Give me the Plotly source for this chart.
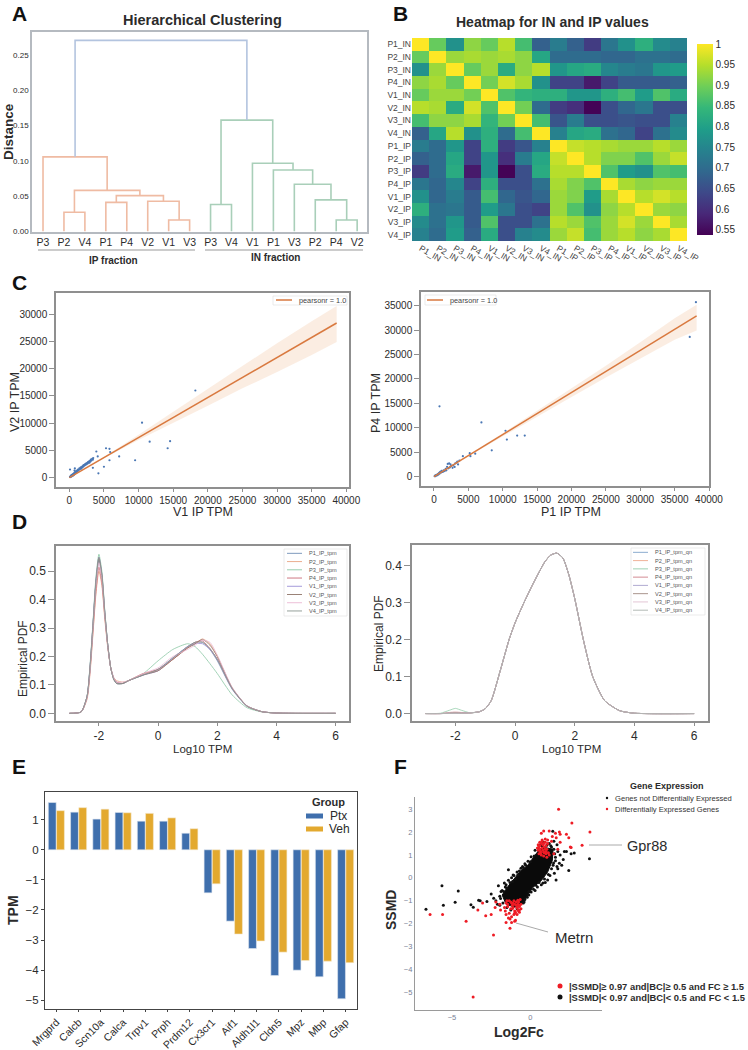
import plotly.graph_objects as go

W, H = 748, 1050
FONT = "Liberation Sans"
DARK = "#2b2b2b"
FRAME = "#8f8f8f"

# A: dendrogram
leaf_labels = ["P3", "P2", "V4", "P1", "P4", "V2", "V1", "V3",
               "P3", "V4", "V1", "P1", "V3", "P2", "P4", "V2"]
ip_merges = [(1, 2, 0.027), (6, 7, 0.016), (5, 17, 0.0426), (3, 4, 0.041),
             (19, 18, 0.0506), (16, 20, 0.058), (0, 21, 0.1056)]
in_merges = [(8, 9, 0.038), (14, 15, 0.016), (13, 24, 0.0445), (12, 25, 0.0668),
             (11, 26, 0.087), (10, 27, 0.0966), (23, 28, 0.1577)]
top_merge = [(22, 29, 0.2708)]

# B: correlation heatmap
hm_labels = ["P1_IN", "P2_IN", "P3_IN", "P4_IN", "V1_IN", "V2_IN", "V3_IN", "V4_IN",
             "P1_IP", "P2_IP", "P3_IP", "P4_IP", "V1_IP", "V2_IP", "V3_IP", "V4_IP"]
hm_values = [
    [1.00, .89, .77, .92, .89, .95, .86, .68, .73, .68, .62, .72, .77, .83, .76, .74],
    [.89, 1.00, .93, .94, .93, .94, .92, .81, .70, .70, .70, .69, .69, .71, .71, .70],
    [.77, .93, 1.00, .89, .93, .82, .92, .95, .78, .81, .82, .75, .73, .72, .78, .79],
    [.92, .94, .89, 1.00, .90, .97, .94, .77, .63, .63, .57, .63, .67, .67, .67, .68],
    [.89, .93, .93, .90, 1.00, .87, .84, .83, .83, .78, .78, .83, .86, .79, .87, .82],
    [.95, .94, .82, .97, .87, 1.00, .90, .70, .62, .60, .54, .65, .69, .72, .65, .65],
    [.86, .92, .92, .94, .84, .90, 1.00, .86, .66, .73, .65, .65, .66, .65, .65, .74],
    [.68, .81, .95, .77, .83, .70, .86, 1.00, .74, .81, .82, .71, .69, .63, .71, .76],
    [.73, .70, .78, .63, .83, .62, .66, .74, 1.00, .96, .95, .94, .93, .93, .95, .93],
    [.68, .70, .81, .63, .78, .60, .73, .81, .96, 1.00, .95, .91, .91, .87, .93, .96],
    [.62, .70, .82, .57, .78, .54, .65, .82, .95, .95, 1.00, .87, .79, .77, .87, .86],
    [.72, .69, .75, .63, .83, .65, .65, .71, .94, .91, .87, 1.00, .94, .92, .93, .93],
    [.77, .69, .73, .67, .86, .69, .66, .69, .93, .91, .79, .94, 1.00, .95, .97, .95],
    [.83, .71, .72, .67, .79, .72, .65, .63, .93, .87, .77, .92, .95, 1.00, .93, .92],
    [.76, .71, .78, .67, .87, .65, .65, .71, .95, .93, .87, .93, .97, .93, 1.00, .94],
    [.74, .70, .79, .68, .82, .65, .74, .76, .93, .96, .86, .93, .95, .92, .94, 1.00],
]
cb_ticks = [0.55, 0.6, 0.65, 0.7, 0.75, 0.8, 0.85, 0.9, 0.95, 1]

# C: scatter plots with regression fits
c1_x = [18200, 10500, 11600, 14550, 14200, 9500, 7200, 5800, 5800, 5900, 5300, 4100, 3900, 5000, 4200, 3400,
        100, 800, 750, 100, 150, 200, 250, 300, 350, 400, 450, 500, 550, 600, 650, 700, 800, 850, 900, 1000,
        1050, 1100, 1200, 1250, 1300, 1400, 1450, 1500, 1600, 1650, 1700, 1800, 1850, 1900, 2000, 2050, 2100,
        2200, 2250, 2300, 2400, 2450, 2500, 2600, 2650, 2700, 2800, 2850, 2900, 3000, 3050, 3100, 3200, 3300, 3400, 3450]
c1_y = [16000, 10100, 6600, 6700, 5400, 3200, 3900, 3200, 5300, 4700, 5400, 3900, 4800, 2000, 800, 1800,
        1500, 1700, 1300, 150, 100, 300, 200, 450, 250, 500, 350, 600, 400, 700, 500, 850, 700, 1000, 1100, 1000,
        1200, 1300, 1150, 1500, 1400, 1450, 1700, 1550, 1700, 1900, 1650, 1850, 2050, 1900, 2200, 2050, 2300,
        2250, 2450, 2350, 2500, 2650, 2450, 2700, 2600, 2850, 2800, 3000, 2750, 3100, 2950, 3300, 3150, 3450, 3300, 3600]
c1_fit_x = [0, 5000, 10000, 15000, 20000, 25000, 30000, 35000, 38600]
c1_fit_y = [0, 3680, 7360, 11040, 14720, 18400, 22080, 25760, 28400]
c1_up = [50, 3800, 7900, 12100, 16400, 20600, 24700, 28700, 31500]
c1_lo = [-50, 3550, 6900, 10100, 13200, 16400, 19400, 22500, 24900]

c2_x = [37200, 38100, 800, 6900, 10400, 10600, 12100, 13200, 8400, 6000, 5200, 5300, 4200, 100, 150, 200, 300,
        350, 450, 500, 600, 650, 750, 800, 900, 1000, 1100, 1200, 1300, 1400, 1500, 1600, 1700, 1800, 1900,
        2000, 2100, 2200, 2300, 2400, 2500, 2700, 2800, 3000, 3100, 3300, 3400, 3500, 3700]
c2_y = [28600, 35700, 14400, 11100, 9400, 7600, 8400, 8400, 5400, 4700, 4800, 4200, 4200, 100, 200, 100, 300,
        250, 400, 300, 600, 450, 800, 600, 1000, 800, 1200, 950, 1000, 1300, 1150, 1250, 1600, 1300, 2000,
        2600, 1700, 2700, 1900, 2500, 2200, 1800, 2300, 2000, 2700, 2900, 3100, 2500, 3300]
c2_fit_x = [0, 5000, 10000, 15000, 20000, 25000, 30000, 35000, 38200]
c2_fit_y = [0, 4300, 8610, 12900, 17200, 21500, 25800, 30100, 32900]
c2_up = [60, 4400, 8900, 13500, 18100, 22700, 27500, 32400, 35200]
c2_lo = [-60, 4200, 8300, 12300, 16300, 20300, 24200, 28000, 29900]

# D: density curves
d_x = [-3, -2.6, -2.4, -2.3, -2.2, -2.1, -2, -1.9, -1.8, -1.7, -1.6, -1.5, -1.4, -1.2, -1, -0.5,
       0, 0.5, 1, 1.25, 1.5, 1.75, 2, 2.5, 3, 3.5, 4, 6]
d_names = ["P1_IP_tpm", "P2_IP_tpm", "P3_IP_tpm", "P4_IP_tpm", "V1_IP_tpm", "V2_IP_tpm", "V3_IP_tpm", "V4_IP_tpm"]
d_colors = ["#6f8fb5", "#e8a583", "#8cc8a4", "#c96a76", "#9b8fd6", "#8f7468", "#eab8d3", "#8a968e"]
d_p1 = [0, .005, .06, .16, .31, .46, .54, .48, .35, .24, .16, .125, .11, .105, .115, .135,
        .155, .195, .235, .25, .25, .225, .185, .085, .025, .006, .001, 0]
d_p2 = [0, .005, .05, .14, .28, .42, .50, .45, .33, .23, .16, .125, .115, .11, .115, .14,
        .15, .19, .23, .245, .262, .245, .20, .09, .026, .006, .001, 0]
d_p3 = [0, .005, .06, .17, .32, .48, .56, .50, .36, .24, .16, .12, .105, .105, .115, .14,
        .185, .225, .245, .235, .208, .175, .14, .065, .02, .005, .001, 0]
d_p4 = [0, .005, .055, .15, .29, .43, .515, .46, .34, .235, .16, .125, .11, .105, .115, .14,
        .155, .19, .232, .25, .255, .228, .19, .088, .026, .006, .001, 0]
d_v1 = [0, .005, .06, .165, .315, .47, .55, .49, .355, .24, .16, .12, .105, .105, .115, .135,
        .15, .195, .235, .245, .245, .225, .19, .088, .026, .006, .001, 0]
d_v2 = [0, .005, .06, .16, .31, .46, .545, .485, .35, .24, .16, .12, .105, .105, .115, .135,
        .15, .19, .23, .245, .26, .24, .20, .09, .026, .006, .001, 0]
d_v3 = [0, .005, .055, .15, .30, .45, .53, .475, .345, .235, .16, .125, .11, .11, .115, .14,
        .16, .20, .225, .24, .258, .25, .205, .092, .027, .006, .001, 0]
d_v4 = [0, .005, .06, .16, .31, .465, .55, .49, .355, .24, .16, .12, .105, .105, .115, .135,
        .155, .195, .235, .25, .25, .228, .19, .088, .026, .006, .001, 0]
d_series = [d_p1, d_p2, d_p3, d_p4, d_v1, d_v2, d_v3, d_v4]

qn_names = ["P1_IP_tpm_qn", "P2_IP_tpm_qn", "P3_IP_tpm_qn", "P4_IP_tpm_qn",
            "V1_IP_tpm_qn", "V2_IP_tpm_qn", "V3_IP_tpm_qn", "V4_IP_tpm_qn"]
qn_colors = ["#7fa3c9", "#eea98c", "#93cda9", "#cf7f88", "#a7a1cc", "#a08a80", "#e0c0d0", "#a9b2ad"]
qn_left_x = [-3, -2.5, -2.2, -2, -1.8, -1.5]
qn_left_p1 = [0, 0, .001, .001, .001, .002]
qn_left_p2 = [0, 0, .001, .002, .001, .002]
qn_left_p3 = [0, .001, .009, .014, .009, .002]
qn_left_p4 = [0, 0, .003, .004, .003, .002]
qn_left_v1 = [0, 0, .001, .001, .001, .002]
qn_left_v2 = [0, 0, .001, .002, .001, .002]
qn_left_v3 = [0, 0, .001, .001, .001, .002]
qn_left_v4 = [0, 0, .001, .001, .001, .002]
qn_lefts = [qn_left_p1, qn_left_p2, qn_left_p3, qn_left_p4, qn_left_v1, qn_left_v2, qn_left_v3, qn_left_v4]
qn_right_x = [-1.2, -1, -0.8, -0.5, -0.2, 0, 0.3, 0.6, 1, 1.2, 1.4, 1.6, 1.8, 2, 2.3, 2.6, 3, 3.5, 4, 6]
qn_right_y = [.005, .013, .035, .115, .20, .245, .30, .35, .41, .428, .433, .42, .375, .31, .195, .10, .035, .008, .001, 0]

# E: marker gene bars
genes = ["Mrgprd", "Calcb", "Scn10a", "Calca", "Trpv1", "Prph", "Prdm12",
         "Cx3cr1", "Aif1", "Aldh1l1", "Cldn5", "Mpz", "Mbp", "Gfap"]
ptx = [1.57, 1.25, 1.02, 1.24, 0.95, 0.95, 0.55, -1.43, -2.37, -3.28, -4.18, -4.0, -4.22, -4.95]
veh = [1.30, 1.40, 1.35, 1.23, 1.21, 1.06, 0.70, -1.13, -2.80, -3.03, -3.40, -3.68, -3.70, -3.75]

# F: volcano-like scatter, the solid core of the cloud is outlined, sparser points are listed
cloud_x = [-1.55, -1.8, -1.4, -0.95, -0.6, -0.2, 0.1, 0.4, 0.75, 1.45, 1.4, 1.1, 0.7, 0.15, -0.25, -0.5, -1.0]
cloud_y = [-1.15, -0.75, -0.35, 0.02, 0.32, 0.52, 0.8, 1.08, 1.35, 1.25, 0.75, 0.25, -0.12, -0.42, -0.85, -1.12, -1.28]
ns_x = [-6.66, -5.64, -5.55, -4.8, -4.6, -3.79, -3.64, -3.3, -3.2, -2.77, -2.5, -2.34, -2.04, -1.87, -1.66, -1.4,
        -1.13, -0.8, -0.6, 1.64, 2.45, 3.77, 2.8, 2.6, 2.17, 1.43, 1.53, 1.85, 1.1, -2.2, -1.95, -1.8, -1.6, -1.75,
        -1.55, -1.4, -1.2, -1.05, -0.95, -0.7, -0.45, -0.3, 0.0, 0.25, 0.55, 0.75, 1.2, 1.35, 1.5, 1.7, 1.6, 1.9,
        2.1, 2.3, 1.45, 1.25, 0.95, 1.75, 2.0, 0.7, 0.45, 0.3, -0.1, -0.4, -0.85, -1.25, -1.5, -1.95, -2.1,
        -1.9, -1.7, -1.5, -1.3, -1.1, -0.85, -0.5, -0.35, -0.15, 0.05, 0.3, 0.5, 0.65, 0.85, 1.05, 1.3, 1.5, 1.55,
        1.48, 1.35, 1.15, 0.9, 0.8, 0.55, 0.35, 0.2, 0.05, -0.1, -0.2, -0.35, -0.45, 1.6, 1.7, 1.75]
ns_y = [-1.37, -0.34, -1.2, -1.06, -0.57, -1.18, -1.28, -0.98, -1.0, -1.03, -0.7, -0.89, -0.35, -0.6, -0.23, 0.35,
        -0.16, 0.13, 0.42, -0.09, 0.32, 0.83, 1.08, 1.05, 1.15, 2.03, 0.2, 0.64, -0.09, -1.0, -0.8, -0.55, -0.4, -1.1,
        -0.3, -0.1, 0.0, 0.1, -0.05, 0.3, 0.45, 0.55, 0.7, 0.95, 1.15, 1.4, 1.5, 1.35, 1.6, 1.45, 0.9, 1.0,
        0.8, 1.15, 0.55, 0.1, -0.2, 0.4, 0.55, -0.3, -0.4, -0.55, -0.75, -1.05, -1.35, -1.4, -1.3, -1.2, -1.15,
        -0.9, -0.6, -0.45, -0.2, 0.12, 0.25, 0.5, 0.62, 0.72, 0.92, 1.2, 1.3, 1.45, 1.55, 1.42, 1.4, 1.25, 1.05,
        0.65, 0.4, 0.15, -0.05, -0.22, -0.2, -0.32, -0.5, -0.62, -0.6, -0.85, -0.95, -1.1, 0.75, 0.5, 1.15]
de_x = [1.8, 2.65, 3.8, 3.3, 2.6, 2.45, 2.3, 1.9, 1.85, 1.6, 1.4, 1.2, 0.85, 0.7, 0.6, 0.55, 0.95, 1.1, 1.0, 0.8, 0.75, 0.6, 0.5, 0.65,
        0.9, 1.05, 1.2, 1.5, 1.75, 1.9, 0.55, 0.7, 0.85, 1.0, 0.45, 0.5, 0.75, 0.95, 1.1, 1.35, 1.65, 2.55, 1.05, 0.85,
        0.6, 0.7, 0.8, 0.9, 1.0, 1.15, 0.65, 0.85, 0.95, 0.75,
        -6.4, -5.6, -4.1, -3.35, -3.05, -2.85, -2.5, -2.35, -2.2, -2.25, -1.95, -1.9, -1.65, -1.6, -1.55, -1.5, -1.45, -1.4, -1.3,
        -1.25, -1.15, -1.05, -1.0, -0.9, -0.75, -0.7, -0.65, -0.6, -1.55, -1.35, -1.2, -1.1, -0.95, -0.8, -0.7, -1.45, -1.25, -1.05, -0.85,
        -1.55, -1.35, -1.15, -1.0, -0.85, -0.75, -3.65, -1.0, -0.8, -1.3, -1.2,
        -0.9, -0.8, -0.7, -0.6, -1.0, -1.1, -1.2, -0.85, -0.7, -0.95]
de_y = [3.0, 2.4, 2.0, 1.42, 1.32, 1.75, 1.9, 1.9, 2.0, 1.95, 1.8, 2.05, 2.05, 1.95, 1.55, 1.35, 1.55, 1.65, 1.4, 1.45, 1.3, 1.25, 1.2, 1.15,
        1.1, 1.25, 1.0, 1.05, 1.25, 1.55, 1.05, 1.0, 0.95, 1.15, 1.3, 1.45, 1.6, 1.7, 1.5, 1.6, 1.75, 1.35, 0.9, 1.5,
        1.4, 1.5, 1.2, 1.35, 1.05, 1.1, 1.08, 1.12, 1.25, 1.65,
        -1.6, -1.6, -1.9, -1.4, -1.1, -1.65, -1.6, -2.5, -1.05, -1.3, -1.15, -1.4, -1.3, -1.45, -1.95, -1.0, -1.15, -1.75, -2.2,
        -1.05, -1.2, -1.0, -1.45, -1.2, -1.05, -1.5, -0.95, -1.35, -1.6, -1.55, -1.7, -1.1, -1.85, -1.4, -1.2, -1.25, -1.35, -1.6, -1.3,
        -1.1, -1.0, -1.35, -1.9, -1.6, -1.45, -5.2, -1.55, -0.98, -1.8, -1.95,
        -1.05, -1.15, -1.25, -1.15, -1.15, -1.3, -1.1, -1.3, -1.4, -1.5]


def px_x(x):
    return x / W


def px_y(y):
    return 1 - y / H


def dom(x0, x1, y0, y1):
    return dict(domain=[px_x(x0), px_x(x1)]), dict(domain=[px_y(y1), px_y(y0)])


def text(annots, x, y, s, size=10, bold=False, color=DARK, anchor="center", angle=0):
    annots.append(dict(x=px_x(x), y=px_y(y), xref="paper", yref="paper", text="<b>%s</b>" % s if bold else s,
                       showarrow=False, xanchor=anchor, yanchor="middle", textangle=angle,
                       font=dict(family=FONT, size=size, color=color)))


def seg(shapes, x0, y0, x1, y1, color="#999999", width=1):
    shapes.append(dict(type="line", xref="paper", yref="paper", x0=px_x(x0), y0=px_y(y0), x1=px_x(x1), y1=px_y(y1),
                       line=dict(color=color, width=width)))


def box(shapes, x0, y0, x1, y1, color="#e3e3e3"):
    shapes.append(dict(type="rect", xref="paper", yref="paper", x0=px_x(x0), y0=px_y(y0), x1=px_x(x1), y1=px_y(y1),
                       line=dict(color=color, width=0.7), fillcolor="white"))


def dot(shapes, x, y, r, color):
    shapes.append(dict(type="circle", xref="paper", yref="paper", x0=px_x(x - r), y0=px_y(y - r),
                       x1=px_x(x + r), y1=px_y(y + r), line=dict(width=0), fillcolor=color))


fig = go.Figure()
annots = []
shapes = []
axis_font = dict(family=FONT, size=10, color=DARK)


def frame_axes(rng, color=FRAME, width=1.5, **kw):
    out = dict(range=rng, showgrid=False, zeroline=False, showline=True, mirror=True, linecolor=color,
               linewidth=width, ticks="outside", ticklen=3, tickcolor=color, tickfont=axis_font)
    out.update(kw)
    return out


# A
pos = {i: float(i) for i in range(len(leaf_labels))}
height = {i: 0.0 for i in range(len(leaf_labels))}
node = len(leaf_labels)
for merges, color in [(ip_merges, "#efbba3"), (in_merges, "#a9cfb9"), (top_merge, "#b3c4df")]:
    for a, b, h in merges:
        fig.add_trace(go.Scatter(x=[pos[a], pos[a], pos[b], pos[b]], y=[height[a], h, h, height[b]],
                                 xaxis="x", yaxis="y", mode="lines", line=dict(color=color, width=1.6),
                                 showlegend=False))
        pos[node] = (pos[a] + pos[b]) / 2
        height[node] = h
        node += 1

# B
fig.add_trace(go.Heatmap(z=hm_values, x=hm_labels, y=hm_labels, xaxis="x2", yaxis="y2", colorscale="Viridis",
                         zmin=0.537, zmax=1.0, xgap=0, ygap=0,
                         colorbar=dict(x=px_x(697), xanchor="left", y=px_y(235), yanchor="bottom",
                                       xref="paper", yref="paper", len=191 / H, lenmode="fraction", xpad=0, ypad=0,
                                       thickness=16, thicknessmode="pixels", outlinewidth=0, ticks="",
                                       tickvals=cb_ticks, ticktext=[str(t) for t in cb_ticks], ticklabelposition="outside",
                                       tickfont=dict(family=FONT, size=10, color=DARK))))

# C
for xs, ys, fx, fy, up, lo, xa, ya in [(c1_x, c1_y, c1_fit_x, c1_fit_y, c1_up, c1_lo, "x3", "y3"),
                                       (c2_x, c2_y, c2_fit_x, c2_fit_y, c2_up, c2_lo, "x4", "y4")]:
    fig.add_trace(go.Scatter(x=fx + fx[::-1], y=up + lo[::-1], xaxis=xa, yaxis=ya, mode="lines", fill="toself",
                             fillcolor="rgba(240,190,150,0.28)", line=dict(width=0), showlegend=False))
    fig.add_trace(go.Scatter(x=xs, y=ys, xaxis=xa, yaxis=ya, mode="markers",
                             marker=dict(size=2.2, color="#4a77b4"), showlegend=False))
    fig.add_trace(go.Scatter(x=fx, y=fy, xaxis=xa, yaxis=ya, mode="lines",
                             line=dict(color="#d9793f", width=1.5), showlegend=False))

# D
for ys, name, color in zip(d_series, d_names, d_colors):
    fig.add_trace(go.Scatter(x=d_x, y=ys, xaxis="x5", yaxis="y5", mode="lines", name=name,
                             line=dict(color=color, width=0.8, shape="spline", smoothing=0.6), showlegend=False))
for left, name, color in zip(qn_lefts, qn_names, qn_colors):
    fig.add_trace(go.Scatter(x=qn_left_x + qn_right_x, y=left + qn_right_y, xaxis="x6", yaxis="y6", mode="lines", name=name,
                             line=dict(color=color, width=0.8, shape="spline", smoothing=0.6), showlegend=False))

# E
fig.add_trace(go.Bar(x=genes, y=ptx, xaxis="x7", yaxis="y7", name="Ptx", marker=dict(color="#3f6fad", line=dict(color="#dfe6f0", width=0.6)), showlegend=False))
fig.add_trace(go.Bar(x=genes, y=veh, xaxis="x7", yaxis="y7", name="Veh", marker=dict(color="#e3a92f", line=dict(color="#f5ead0", width=0.6)), showlegend=False))

# F
fig.add_trace(go.Scatter(x=cloud_x + cloud_x[:1], y=cloud_y + cloud_y[:1], xaxis="x8", yaxis="y8", mode="lines", fill="toself",
                         fillcolor="#0a0a0a", line=dict(color="#0a0a0a", width=1), showlegend=False))
fig.add_trace(go.Scatter(x=ns_x, y=ns_y, xaxis="x8", yaxis="y8", mode="markers",
                         marker=dict(size=3, color="#111111"), showlegend=False))
fig.add_trace(go.Scatter(x=de_x, y=de_y, xaxis="x8", yaxis="y8", mode="markers",
                         marker=dict(size=3, color="#ee1c25"), showlegend=False))

# layout pieces
ax, ay = dom(32, 367, 32, 232)
bx, by = dom(412, 687, 38, 241)
c1x, c1y = dom(56, 349, 293, 487)
c2x, c2y = dom(421, 709, 292, 486)
d1x, d1y = dom(56, 349, 546, 721)
d2x, d2y = dom(412, 708, 545, 721)
ex, ey = dom(45, 357, 792, 1009)
fx_, fy_ = dom(415, 602, 797, 1010)

big_font = dict(family=FONT, size=12, color=DARK)
d_ticks = dict(tickmode="array", tickvals=[-2, 0, 2, 4, 6], ticktext=["-2", "0", "2", "4", "6"], tickfont=big_font)
thou_x = dict(tickmode="array", tickvals=[0, 5000, 10000, 15000, 20000, 25000, 30000, 35000, 40000], tickformat="d")
thou_y = dict(tickmode="array", tickvals=[0, 5000, 10000, 15000, 20000, 25000, 30000, 35000], tickformat="d", ticklen=5)
layout_axes = dict(
    xaxis=dict(ax, **frame_axes([-0.526, 15.47], color="#b5bac0", tickmode="array", tickvals=list(range(16)),
                                ticktext=leaf_labels, ticks="", tickfont=dict(family=FONT, size=10.5, color=DARK))),
    yaxis=dict(ay, **frame_axes([-0.001, 0.2827], color="#b5bac0", tickmode="array", ticks="",
                                tickvals=[0, 0.05, 0.1, 0.15, 0.2, 0.25], tickformat=".2f",
                                tickfont=dict(family=FONT, size=8, color=DARK))),
    xaxis2=dict(bx, showgrid=False, zeroline=False, tickangle=30, ticks="", tickfont=dict(family=FONT, size=8.5, color="#444")),
    yaxis2=dict(by, showgrid=False, zeroline=False, autorange="reversed", ticks="", tickfont=dict(family=FONT, size=8.5, color="#444")),
    xaxis3=dict(c1x, **frame_axes([-1923, 40385], **thou_x)),
    yaxis3=dict(c1y, **frame_axes([-1714, 33904], **thou_y)),
    xaxis4=dict(c2x, **frame_axes([-1890, 40000], **thou_x)),
    yaxis4=dict(c2y, **frame_axes([-1910, 37790], **thou_y)),
    xaxis5=dict(d1x, **frame_axes([-3.45, 6.45], **d_ticks)),
    yaxis5=dict(d1y, **frame_axes([-0.027, 0.589], tickmode="array", tickvals=[0, .1, .2, .3, .4, .5], tickformat=".1f", tickfont=big_font, ticklen=6)),
    xaxis6=dict(d2x, **frame_axes([-3.455, 6.465], **d_ticks)),
    yaxis6=dict(d2y, **frame_axes([-0.02, 0.455], tickmode="array", tickvals=[0, .1, .2, .3, .4], tickformat=".1f", tickfont=big_font, ticklen=6)),
    xaxis7=dict(ex, **frame_axes([-0.51, 13.51], color="#444", width=1.2, tickangle=-45, ticklen=2, tickfont=dict(family=FONT, size=10.5, color=DARK))),
    yaxis7=dict(ey, **frame_axes([-5.29, 1.92], color="#444", width=1.2, tickmode="array", tickvals=[-5, -4, -3, -2, -1, 0, 1], tickfont=dict(family=FONT, size=11.5, color=DARK))),
    xaxis8=dict(fx_, range=[-7.36, 4.57], showgrid=False, zeroline=False, showline=True, linecolor="#9a9a9a", linewidth=1.2,
                tickmode="array", tickvals=[-5, 0], ticks="", tickfont=dict(family=FONT, size=7.5, color="#7a7f96")),
    yaxis8=dict(fy_, range=[-5.77, 3.53], showgrid=False, zeroline=False, showline=True, linecolor="#9a9a9a", linewidth=1.2,
                tickmode="array", tickvals=[-5, -4, -3, -2, -1, 0, 1, 2, 3], ticks="", tickfont=dict(family=FONT, size=7.5, color="#7a7f96")),
)
for n in range(1, 9):
    s = "" if n == 1 else str(n)
    layout_axes["xaxis" + s].update(anchor="y" + s, automargin=False)
    layout_axes["yaxis" + s].update(anchor="x" + s, automargin=False)

# panel letters
for letter, x, y in [("A", 19, 13), ("B", 400, 13), ("C", 19, 282), ("D", 19, 521), ("E", 19, 766), ("F", 400, 766)]:
    text(annots, x, y, letter, size=21, bold=True, color="#111")

# titles and labels
text(annots, 202, 20, "Hierarchical Clustering", size=14.5, bold=True)
text(annots, 552, 22, "Heatmap for IN and IP values", size=14, bold=True)
text(annots, 9, 132, "Distance", size=13.5, bold=True, angle=-90)
text(annots, 113, 260, "IP fraction", size=10, bold=True)
text(annots, 275, 257, "IN fraction", size=10, bold=True)
seg(shapes, 38, 250, 195, 250)
seg(shapes, 205, 250, 363, 250)
text(annots, 203, 512, "V1 IP TPM", size=12.5)
text(annots, 15, 402, "V2 IP TPM", size=12.5, angle=-90)
text(annots, 571, 512, "P1 IP TPM", size=12.5)
text(annots, 376, 403, "P4 IP TPM", size=12.5, angle=-90)
text(annots, 203, 749, "Log10 TPM", size=11.5)
text(annots, 23, 659, "Empirical PDF", size=12, angle=-90)
text(annots, 571, 749, "Log10 TPM", size=11.5)
text(annots, 379, 634, "Empirical PDF", size=12, angle=-90)
text(annots, 13, 910, "TPM", size=14, bold=True, angle=-90)
text(annots, 519, 1032, "Log2Fc", size=14, bold=True)
text(annots, 391, 910, "SSMD", size=14, bold=True, angle=-90)

# C legends
box(shapes, 273, 296, 347, 305)
seg(shapes, 276, 300, 292, 300, color="#d9793f", width=1.5)
text(annots, 297, 300, "pearsonr = 1.0", size=7.3, anchor="left", color="#444")
box(shapes, 425, 295, 496, 305)
seg(shapes, 427, 300, 443, 300, color="#d9793f", width=1.5)
text(annots, 448, 300, "pearsonr = 1.0", size=7.3, anchor="left", color="#444")

# D legends
box(shapes, 284, 549, 347, 616)
for i, (name, color) in enumerate(zip(d_names, d_colors)):
    yy = 510 + (130 + 24.7 * i) / 3
    seg(shapes, 287, yy, 302, yy, color=color, width=0.9)
    text(annots, 307, yy, name, size=5.6, anchor="left", color="#555")
box(shapes, 631, 548, 705, 615)
for i, (name, color) in enumerate(zip(qn_names, qn_colors)):
    yy = 510 + (127 + 24.8 * i) / 3
    seg(shapes, 633, yy, 648, yy, color=color, width=0.9)
    text(annots, 653, yy, name, size=5.6, anchor="left", color="#555")

# E legend
text(annots, 328, 802, "Group", size=11, bold=True)
seg(shapes, 306, 816, 323, 816, color="#3f6fad", width=5)
text(annots, 328, 816, "Ptx", size=12, anchor="left")
seg(shapes, 306, 829, 323, 829, color="#e3a92f", width=5)
text(annots, 327, 829, "Veh", size=12, anchor="left")

# F legends and callouts
text(annots, 667, 786, "Gene Expression", size=9, bold=True)
dot(shapes, 607, 798, 1.2, "#111")
text(annots, 613, 798, "Genes not Differentially Expressed", size=7.6, anchor="left", color="#333")
dot(shapes, 607, 809, 1.2, "#ee1c25")
text(annots, 613, 809, "Differentially Expressed Genes", size=7.6, anchor="left", color="#333")
dot(shapes, 560, 986, 2.5, "#ee1c25")
text(annots, 567, 986, "|SSMD|≥ 0.97 and|BC|≥ 0.5 and FC ≥ 1.5", size=9.4, bold=True, anchor="left")
dot(shapes, 560, 997, 2.5, "#111")
text(annots, 567, 997, "|SSMD|< 0.97 and|BC|< 0.5 and FC < 1.5", size=9.4, bold=True, anchor="left")
seg(shapes, 589, 845, 622, 845, color="#aaaaaa", width=1)
text(annots, 647, 846, "Gpr88", size=14.5)
seg(shapes, 516, 923, 548, 932, color="#aaaaaa", width=1)
text(annots, 574, 937, "Metrn", size=15)

fig.update_layout(width=W, height=H, autosize=False, margin=dict(l=0, r=0, t=0, b=0),
                  paper_bgcolor="white", plot_bgcolor="white", showlegend=False,
                  barmode="group", bargap=0.26, bargroupgap=0.05,
                  font=dict(family=FONT, color=DARK), annotations=annots, shapes=shapes, **layout_axes)

# the default page has an 8px body margin, drop it so the figure fills the window
fig.write_html("out.html", config={"displayModeBar": False}, post_script="document.body.style.margin='0';")
